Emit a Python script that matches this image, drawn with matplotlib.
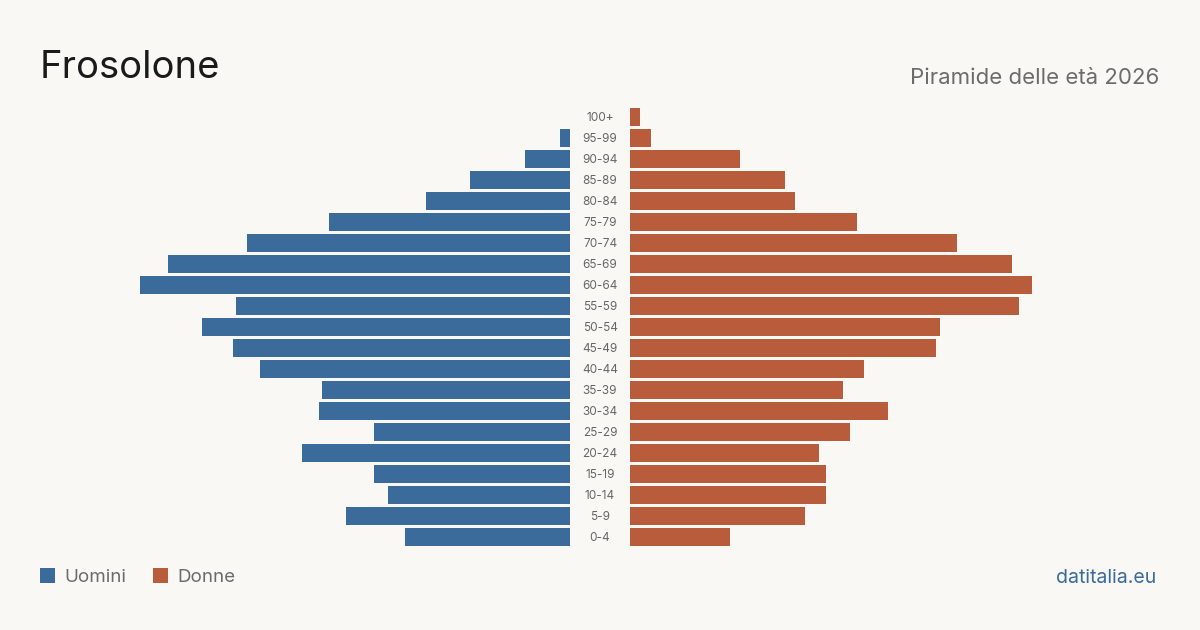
import matplotlib
matplotlib.use("Agg")
import matplotlib.pyplot as plt
from matplotlib.patches import Rectangle

plt.rcParams['font.family'] = ['Inter', 'DejaVu Sans']

age_groups = ["0-4", "5-9", "10-14", "15-19", "20-24", "25-29", "30-34", "35-39",
              "40-44", "45-49", "50-54", "55-59", "60-64", "65-69", "70-74", "75-79",
              "80-84", "85-89", "90-94", "95-99", "100+"]
men = [165, 224, 182, 196, 268, 196, 251, 248, 310, 337, 368, 334, 430, 402, 323, 241,
       144, 100, 45, 10, 0]
women = [100, 175, 196, 196, 189, 220, 258, 213, 234, 306, 310, 389, 402, 382, 327, 227,
         165, 155, 110, 21, 10]

BG = "#f9f8f4"
BLUE = "#3a6b9b"
ORANGE = "#b95c3c"
W, H = 1200, 630

fig = plt.figure(figsize=(12, 6.3), dpi=100, facecolor=BG)

def ax_px(x0, y0, x1, y1):
    return fig.add_axes([x0 / W, 1 - y1 / H, (x1 - x0) / W, (y1 - y0) / H])

top, bottom = 106.5, 547.5
axL = ax_px(70, top, 570, bottom)
axR = ax_px(630, top, 1130, bottom)
ypos = list(range(len(age_groups)))
axL.barh(ypos, men, height=0.81, color=BLUE)
axR.barh(ypos, women, height=0.81, color=ORANGE)
axL.set_xlim(500, 0)
axR.set_xlim(0, 500)
for ax in (axL, axR):
    ax.set_ylim(-0.5, len(age_groups) - 0.5)
    ax.axis("off")
    ax.set_facecolor("none")

for i, lab in enumerate(age_groups):
    y = 538 - 21 * i
    fig.text(600 / W, 1 - y / H, lab, ha="center", va="center", fontsize=8.5, color="#666666")

fig.text(40 / W, 1 - 68 / H, "Frosolone", ha="left", va="center", fontsize=27.5, color="#1a1a1a")
fig.text(1159 / W, 1 - 78 / H, "Piramide delle età 2026", ha="right", va="center", fontsize=16, color="#6b6b6b")

# legend
for x0, lab, col in [(40, "Uomini", BLUE), (153, "Donne", ORANGE)]:
    fig.patches.append(Rectangle((x0 / W, 1 - 583 / H), 15 / W, 15 / H, transform=fig.transFigure,
                                 facecolor=col, edgecolor="none"))
    fig.text((x0 + 24) / W, 1 - 578 / H, lab, ha="left", va="center", fontsize=13.5, color="#6b6b6b")

fig.text(1156 / W, 1 - 578 / H, "datitalia.eu", ha="right", va="center", fontsize=14, color=BLUE)

fig.savefig("out.png", dpi=100, facecolor=BG)
